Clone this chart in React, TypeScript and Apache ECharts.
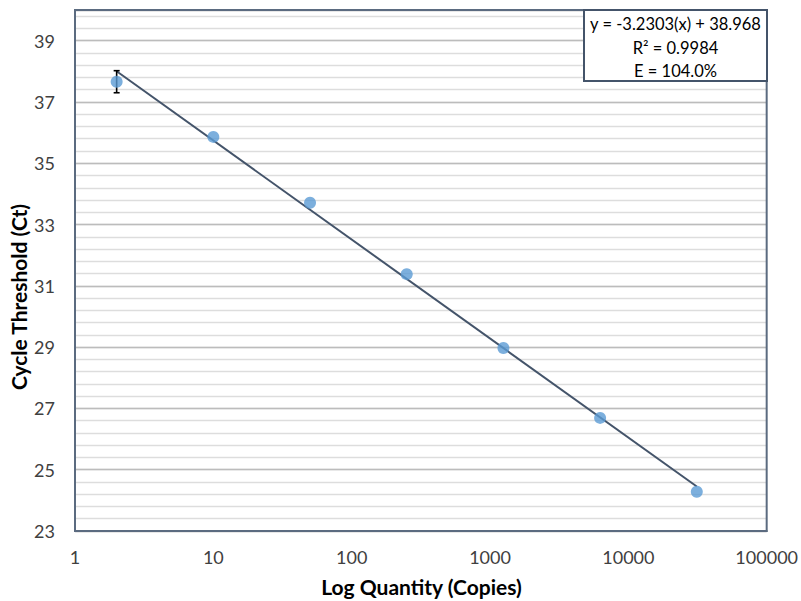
import React, { useEffect, useRef } from "react";
import * as echarts from "echarts";

const quantities = [2, 10, 50, 250, 1250, 6250, 31250];
const ctValues = [37.66, 35.86, 33.71, 31.38, 28.97, 26.69, 24.28];
// error bar on the first point: [x, low, high]
const errorBars = [[2, 37.3, 38.02]];
// fitted trendline end points
const trendline = [
  [2, 38.0],
  [31250, 24.45],
];
const xTicks = [1, 10, 100, 1000, 10000, 100000];
const yLabels = [23, 25, 27, 29, 31, 33, 35, 37, 39];
const equationLines = ["y = -3.2303(x) + 38.968", "R\u00b2 = 0.9984", "E = 104.0%"];

const FONT = "Lato, 'Open Sans', sans-serif";

export default function App() {
  const ref = useRef<HTMLDivElement>(null);
  useEffect(() => {
    if (!ref.current) return;
    const chart = echarts.init(ref.current, undefined, { renderer: "svg" });
    const gridLeft = 75;
    const gridTop = 10;
    const gridRight = 768;
    const gridBottom = 531;
    chart.setOption({
      animation: false,
      backgroundColor: "#ffffff",
      textStyle: { fontFamily: FONT },
      grid: {
        left: gridLeft,
        top: gridTop,
        right: 801 - gridRight,
        bottom: 601 - gridBottom,
        show: true,
        borderColor: "#5b6b80",
        borderWidth: 2,
        backgroundColor: "transparent",
        z: 3,
      },
      xAxis: {
        type: "log",
        logBase: 10,
        min: xTicks[0],
        max: xTicks[xTicks.length - 1],
        axisLine: { show: true, lineStyle: { color: "#5b6b80", width: 2 } },
        axisTick: { show: false },
        splitLine: { show: false },
        minorSplitLine: { show: false },
        axisLabel: {
          color: "#404040",
          fontSize: 18,
          fontFamily: FONT,
          margin: 17,
          formatter: (v: number) => String(Math.round(v)),
        },
      },
      yAxis: [
        {
          type: "value",
          position: "left",
          min: 23,
          max: 40,
          interval: 0.4,
          z: 0,
          axisLine: { show: false },
          axisTick: { show: false },
          axisLabel: { show: false },
          splitLine: { show: true, lineStyle: { color: "#dddddd", width: 1.3 } },
        },
        {
          type: "value",
          position: "left",
          min: 23,
          max: 40,
          interval: 2,
          z: 1,
          axisLine: { show: true, lineStyle: { color: "#5b6b80", width: 2 } },
          axisTick: { show: false },
          axisLabel: {
            color: "#404040",
            fontSize: 18,
            fontFamily: FONT,
            margin: 20,
            formatter: (v: number) =>
              yLabels.indexOf(Math.round(v)) >= 0 && Math.abs(v - Math.round(v)) < 1e-6
                ? String(Math.round(v))
                : "",
          },
          splitLine: { show: true, lineStyle: { color: "#bcbcbc", width: 1.3 } },
        },
      ],
      series: [
        {
          type: "line",
          name: "Trendline",
          yAxisIndex: 1,
          data: trendline,
          symbol: "none",
          lineStyle: { color: "#44546a", width: 2 },
          z: 3,
        },
        {
          type: "custom",
          name: "Error",
          yAxisIndex: 1,
          data: errorBars,
          z: 4,
          renderItem: (params: any, api: any) => {
            const x = api.value(0);
            const lo = api.coord([x, api.value(1)]);
            const hi = api.coord([x, api.value(2)]);
            const cap = 3;
            const style = { stroke: "#000000", lineWidth: 1.6 };
            return {
              type: "group",
              children: [
                { type: "line", shape: { x1: lo[0], y1: lo[1], x2: hi[0], y2: hi[1] }, style },
                { type: "line", shape: { x1: lo[0] - cap, y1: lo[1], x2: lo[0] + cap, y2: lo[1] }, style },
                { type: "line", shape: { x1: hi[0] - cap, y1: hi[1], x2: hi[0] + cap, y2: hi[1] }, style },
              ],
            };
          },
        },
        {
          type: "scatter",
          name: "Ct",
          yAxisIndex: 1,
          data: quantities.map((q, i) => [q, ctValues[i]]),
          symbol: "circle",
          symbolSize: 12,
          itemStyle: { color: "#5b9bd5" },
          z: 5,
        },
      ],
      graphic: [
        {
          type: "rect",
          z: 100,
          shape: { x: 584, y: 10, width: 183, height: 71 },
          style: { fill: "#ffffff", stroke: "#44546a", lineWidth: 2 },
        },
        ...equationLines.map((t, i) => ({
          type: "text",
          z: 101,
          x: 675.5,
          y: 24 + i * 23.5,
          style: {
            text: t,
            fill: "#000000",
            font: `16.5px ${FONT}`,
            textAlign: "center",
            textVerticalAlign: "middle",
          },
        })),
        {
          type: "text",
          x: 421.5,
          y: 586,
          style: {
            text: "Log Quantity (Copies)",
            fill: "#000000",
            font: `bold 21px ${FONT}`,
            textAlign: "center",
            textVerticalAlign: "middle",
          },
        },
        {
          type: "text",
          x: 18,
          y: 297,
          rotation: Math.PI / 2,
          style: {
            text: "Cycle Threshold (Ct)",
            fill: "#000000",
            font: `bold 21px ${FONT}`,
            textAlign: "center",
            textVerticalAlign: "middle",
          },
        },
      ],
    });
    return () => chart.dispose();
  }, []);
  return (
    <div
      ref={ref}
      style={{ position: "fixed", left: 0, top: 0, width: 801, height: 601 }}
    />
  );
}
